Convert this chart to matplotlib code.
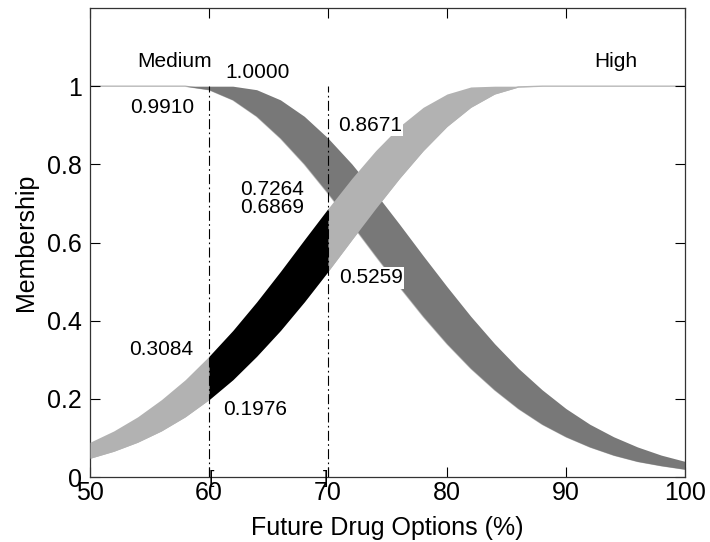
import numpy as np
import matplotlib
matplotlib.use("Agg")
from matplotlib import pyplot as plt

plt.rcParams['font.family'] = ['Liberation Sans', 'DejaVu Sans']

# membership values, every 2 % from 50 to 100
x = np.arange(50, 101, 2)
medium_upper = [1, 1, 1, 1, 1, 1, 1, 0.991, 0.965, 0.923, 0.867, 0.801, 0.726, 0.647,
                0.566, 0.487, 0.411, 0.341, 0.278, 0.223, 0.175, 0.135, 0.103, 0.077, 0.056, 0.040]
medium_lower = [1, 1, 1, 1, 1, 0.991, 0.965, 0.923, 0.867, 0.801, 0.726, 0.647, 0.566,
                0.487, 0.411, 0.341, 0.278, 0.223, 0.175, 0.135, 0.103, 0.077, 0.056, 0.040, 0.029, 0.020]
high_upper = [0.089, 0.118, 0.154, 0.198, 0.249, 0.309, 0.375, 0.448, 0.526, 0.607, 0.687,
              0.764, 0.835, 0.897, 0.946, 0.980, 0.998, 1, 1, 1, 1, 1, 1, 1, 1, 1]
high_lower = [0.048, 0.066, 0.089, 0.118, 0.154, 0.198, 0.249, 0.309, 0.375, 0.448, 0.526,
              0.607, 0.687, 0.764, 0.835, 0.897, 0.946, 0.980, 0.998, 1, 1, 1, 1, 1, 1, 1]

interval = [60, 70]

# value labels: (text, x, y, white box)
labels = [
    ("1.0000", 64.1, 1.036, False),
    ("0.9910", 56.1, 0.946, False),
    ("0.8671", 73.5, 0.900, True),
    ("0.7264", 65.3, 0.736, False),
    ("0.6869", 65.3, 0.690, False),
    ("0.5259", 73.6, 0.510, True),
    ("0.3084", 56.0, 0.325, False),
    ("0.1976", 63.9, 0.172, False),
]
set_names = [("Medium", 57.1, 1.062), ("High", 94.2, 1.062)]

colors = {'medium': '#787878', 'high': '#b2b2b2', 'cut': '#000000', 'edge': '#b8b8b8'}

x = np.asarray(x, dtype=float)
mu_up = np.asarray(medium_upper)
mu_lo = np.asarray(medium_lower)
hi_up = np.asarray(high_upper)
hi_lo = np.asarray(high_lower)

fig = plt.figure(figsize=(7.1, 5.42), dpi=100)
ax = fig.add_axes([0.1268, 0.1199, 0.838, 0.8653])

# thin lines show where the bands collapse onto 1
ax.plot(x, mu_lo, color=colors['edge'], lw=1.0, zorder=1)
ax.plot(x, hi_lo, color=colors['edge'], lw=1.0, zorder=1)

ax.fill_between(x, mu_lo, mu_up, color=colors['medium'], lw=0, zorder=2)
ax.fill_between(x, hi_lo, hi_up, where=x <= interval[0], color=colors['high'], lw=0, zorder=3)
ax.fill_between(x, hi_lo, hi_up, where=x >= interval[1], color=colors['high'], lw=0, zorder=3)
inside = (x >= interval[0]) & (x <= interval[1])
ax.fill_between(x, hi_lo, hi_up, where=inside, color=colors['cut'], lw=0, zorder=3)

ax.vlines(interval, 0, 1, colors='k', linestyles=[(0, (9, 3, 1.5, 3))], lw=0.8, zorder=4)
ax.text(interval[0], -0.005, "[", ha='left', va='center', fontsize=14, zorder=5)
ax.text(interval[1], -0.005, "]", ha='right', va='center', fontsize=14, zorder=5)

for txt, lx, ly, boxed in labels:
    kw = {}
    if boxed:
        kw['bbox'] = dict(facecolor='white', edgecolor='none', pad=1)
    ax.text(lx, ly, txt, ha='center', va='center', fontsize=15, zorder=6, **kw)

for name, lx, ly in set_names:
    ax.text(lx, ly, name, ha='center', va='center', fontsize=15, zorder=6)

ax.set_xlim(50, 100)
ax.set_ylim(0, 1.2)
ax.set_xticks([50, 60, 70, 80, 90, 100])
ax.set_yticks([0, 0.2, 0.4, 0.6, 0.8, 1])
ax.set_yticklabels(["0", "0.2", "0.4", "0.6", "0.8", "1"])
ax.tick_params(direction='in', length=7, width=0.8, top=True, right=True, labelsize=18)
ax.tick_params(axis='x', pad=3)
ax.tick_params(axis='y', pad=6)
for sp in ax.spines.values():
    sp.set_linewidth(0.9)
    sp.set_color('#333333')

ax.set_xlabel("Future Drug Options (%)", fontsize=18, labelpad=8)
ax.set_ylabel("Membership", fontsize=18, labelpad=6)

fig.savefig("out.png", dpi=100)
